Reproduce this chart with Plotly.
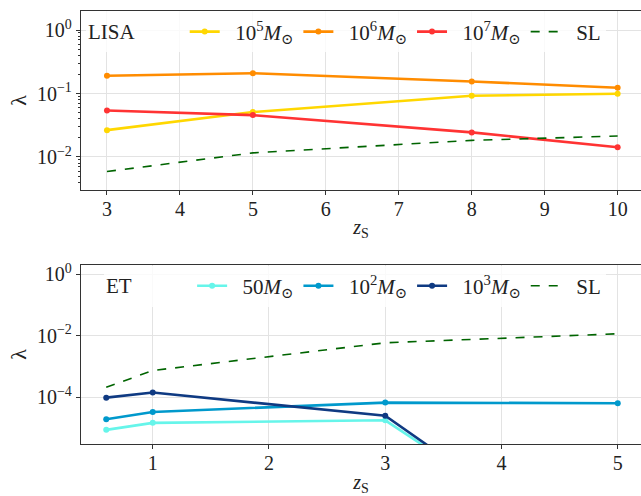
import numpy as np
import plotly.graph_objects as go
from plotly.subplots import make_subplots

# ---------------- data ----------------
z_lisa = [3, 5, 8, 10]
lisa_1e5 = [0.0265, 0.051, 0.092, 0.099]
lisa_1e6 = [0.19, 0.209, 0.155, 0.123]
lisa_1e7 = [0.054, 0.0457, 0.0244, 0.0142]
lisa_sl = [0.0059, 0.0116, 0.0183, 0.0214]

z_et = [0.6, 1, 3, 5]
et_50 = [8.7e-6, 1.47e-5, 1.78e-5, 1.8e-10]
et_1e2 = [1.93e-5, 3.33e-5, 6.7e-5, 6.4e-5]
et_1e3 = [9.7e-5, 1.42e-4, 2.5e-5, 1.3e-10]
et_sl = [2.1e-4, 7.4e-4, 5.9e-3, 1.16e-2]

SP = "&nbsp;"
lisa_labels = ["10<sup>5</sup><i>M</i><sub>⊙</sub>", "10<sup>6</sup><i>M</i><sub>⊙</sub>",
               "10<sup>7</sup><i>M</i><sub>⊙</sub>", "SL"]
et_labels = ["50<i>M</i><sub>⊙</sub>", "10<sup>2</sup><i>M</i><sub>⊙</sub>",
             "10<sup>3</sup><i>M</i><sub>⊙</sub>", "SL"]

lisa_xticks = [3, 4, 5, 6, 7, 8, 9, 10]
et_xticks = [1, 2, 3, 4, 5]
lisa_yticks = [1, 0.1, 0.01]
lisa_yticktext = ["10<sup>0</sup>", "10<sup>−1</sup>", "10<sup>−2</sup>"]
et_yticks = [1, 1e-2, 1e-4]
et_yticktext = ["10<sup>0</sup>", "10<sup>−2</sup>", "10<sup>−4</sup>"]

lisa_colors = ["#FFD700", "#FF8C00", "#FF3333", "#006400"]
et_colors = ["#66F5EA", "#0099CC", "#0F3A82", "#006400"]

FONT = "Liberation Serif, DejaVu Serif, serif"
AX = "#333333"
TXT = "#222222"
LEGSIZE = 21

fig = make_subplots(rows=2, cols=1, vertical_spacing=0.0)

def add(series, z, labels, colors, row, lg):
    for ys, nm, c in zip(series, labels, colors):
        shown = SP * 2 + nm
        if nm == "SL":
            fig.add_trace(go.Scatter(x=z, y=ys, name=shown, mode="lines",
                                     line=dict(color=c, width=1.6, dash="dash"),
                                     legend=lg), row=row, col=1)
        else:
            fig.add_trace(go.Scatter(x=z, y=ys, name=shown, mode="lines+markers",
                                     line=dict(color=c, width=2.6),
                                     marker=dict(color=c, size=6),
                                     legend=lg), row=row, col=1)

add([lisa_1e5, lisa_1e6, lisa_1e7, lisa_sl], z_lisa, lisa_labels, lisa_colors, 1, "legend")
add([et_50, et_1e2, et_1e3, et_sl], z_et, et_labels, et_colors, 2, "legend2")

minor_top = [m * 10.0 ** e for e in range(-3, 1) for m in range(2, 10)]

common_x = dict(showline=True, linecolor=AX, linewidth=1.3, mirror=True,
                ticks="outside", ticklen=4, tickcolor=AX, showgrid=True,
                gridcolor="#e3e3e3", gridwidth=1, zeroline=False, automargin=False,
                ticklabelstandoff=-3,
                tickfont=dict(family=FONT, size=20, color=TXT),
                title_font=dict(family=FONT, size=20, color=TXT))
common_y = dict(type="log", showline=True, linecolor=AX, linewidth=1.3,
                ticks="outside", ticklen=4, tickcolor=AX, showgrid=True,
                gridcolor="#e3e3e3", gridwidth=1, zeroline=False, automargin=False,
                tickmode="array",
                tickfont=dict(family=FONT, size=20, color=TXT),
                title_font=dict(family=FONT, size=22, color=TXT))

fig.update_xaxes(common_x, row=1, col=1, range=[2.644, 10.32], tickmode="array",
                 tickvals=lisa_xticks,
                 title=dict(text="<i>z</i><sub>S</sub>", standoff=0))
fig.update_xaxes(common_x, row=2, col=1, range=[0.383, 5.2], tickmode="array",
                 tickvals=et_xticks,
                 title=dict(text="<i>z</i><sub>S</sub>", standoff=3))
fig.update_yaxes(common_y, row=1, col=1, range=[-2.52, 0.30], tickvals=lisa_yticks,
                 ticktext=lisa_yticktext,
                 minor=dict(tickmode="array", tickvals=minor_top, ticks="outside",
                            ticklen=2, tickcolor=AX, showgrid=False),
                 title=dict(text="λ", standoff=4))
fig.update_yaxes(common_y, row=2, col=1, range=[-5.52, 0.30], tickvals=et_yticks,
                 ticktext=et_yticktext, title=dict(text="λ", standoff=4))

leg = dict(orientation="h", xanchor="left", yanchor="top",
           bgcolor="rgba(255,255,255,0.8)",
           font=dict(family=FONT, size=LEGSIZE, color=TXT), itemwidth=30,
           tracegroupgap=0)

fig.update_layout(
    template="none",
    width=641, height=496,
    margin=dict(l=81, r=0, t=11, b=52),
    paper_bgcolor="white", plot_bgcolor="white",
    font=dict(family=FONT, size=20, color=TXT),
    xaxis=dict(domain=[0, 1]), xaxis2=dict(domain=[0, 1]),
    yaxis=dict(domain=[0.5866, 1.0]),
    yaxis2=dict(domain=[0.0, 0.4134]),
    legend=dict(leg, x=0.009, y=0.999,
                title=dict(text="LISA" + SP * 8, side="left",
                           font=dict(family=FONT, size=LEGSIZE, color=TXT))),
    legend2=dict(leg, x=0.041, y=0.412,
                 title=dict(text="ET" + SP * 10, side="left",
                            font=dict(family=FONT, size=LEGSIZE, color=TXT))),
    showlegend=True,
)

fig.write_html("out.html", config={"displayModeBar": False},
               post_script="document.body.style.margin='0px';document.body.style.overflow='hidden';")
